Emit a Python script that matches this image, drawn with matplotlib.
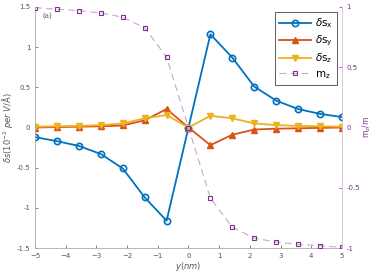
import numpy as np
import matplotlib
matplotlib.use('Agg')
import matplotlib.pyplot as plt

y_nm = np.linspace(-5, 5, 15)

ds_x = [-0.12, -0.17, -0.23, -0.33, -0.51, -0.87, -1.16, 0.0,
        1.16, 0.87, 0.51, 0.335, 0.23, 0.17, 0.13]
ds_y = [0.0, 0.005, 0.01, 0.015, 0.025, 0.09, 0.23, 0.0,
        -0.22, -0.09, -0.025, -0.015, -0.01, -0.005, 0.0]
ds_z = [0.01, 0.015, 0.02, 0.03, 0.05, 0.115, 0.155, 0.0,
        0.145, 0.115, 0.05, 0.03, 0.02, 0.015, 0.01]
m_z = [0.995, 0.98, 0.97, 0.95, 0.915, 0.827, 0.585, 0.0,
       -0.587, -0.827, -0.918, -0.95, -0.97, -0.98, -0.995]

blue = '#0072BD'
orange = '#D95319'
yellow = '#EDB120'
purple = '#7E2F8E'
grey = '#555555'

fig = plt.figure(figsize=(3.74, 2.79), dpi=100)
ax = fig.add_axes([0.094, 0.111, 0.82, 0.864])

l1, = ax.plot(y_nm, ds_x, '-o', color=blue, lw=1.3, ms=4.5, mfc='none', mew=1.2,
              label=r'$\delta\mathrm{s}_\mathrm{x}$')
l2, = ax.plot(y_nm, ds_y, '-^', color=orange, lw=1.3, ms=5,
              label=r'$\delta\mathrm{s}_\mathrm{y}$')
l3, = ax.plot(y_nm, ds_z, '-v', color=yellow, lw=1.3, ms=5,
              label=r'$\delta\mathrm{s}_\mathrm{z}$')

ax.set_xlim(-5, 5)
ax.set_ylim(-1.5, 1.5)
ax.set_xticks(range(-5, 6))
ax.set_yticks([-1.5, -1, -0.5, 0, 0.5, 1, 1.5])
ax.set_yticklabels(['-1.5', '-1', '-0.5', '0', '0.5', '1', '1.5'])
ax.tick_params(direction='in', labelsize=5, colors=grey, length=2.5, width=0.5)
for s in ['left', 'bottom']:
    ax.spines[s].set_color('#aaaaaa')
    ax.spines[s].set_linewidth(0.6)
ax.spines['top'].set_visible(False)
ax.spines['right'].set_visible(False)
ax.set_xlabel(r'$y(nm)$', fontsize=6, color=grey, labelpad=1)
ax.set_ylabel(r'$\delta s(10^{-2}\ per\ V/\mathrm{\AA})$', fontsize=6, color=grey, labelpad=1)
ax.text(-4.75, 1.37, '(a)', fontsize=5, color=grey, family='serif')

ax2 = ax.twinx()
l4, = ax2.plot(y_nm, m_z, '--s', color='#c9a6d1', lw=0.8, ms=3, mfc='none',
               mec=purple, mew=0.8, dashes=(6, 4), label=r'm$_\mathrm{z}$')
ax2.set_ylim(-1, 1)
ax2.set_yticks([-1, -0.5, 0, 0.5, 1])
ax2.set_yticklabels(['-1', '-0.5', '0', '0.5', '1'])
ax2.tick_params(direction='in', labelsize=5, colors=purple, length=2.5, width=0.5)
for s in ['left', 'top', 'bottom']:
    ax2.spines[s].set_visible(False)
ax2.spines['right'].set_color('#d9b8e0')
ax2.spines['right'].set_linewidth(0.6)
ax2.set_ylabel(r'm$_\mathrm{z}$/m', fontsize=5.5, color=purple, labelpad=0)

leg = ax2.legend(handles=[l1, l2, l3, l4], loc='upper right',
                 bbox_to_anchor=(0.984, 0.979), borderaxespad=0,
                 fontsize=7.5, frameon=True,
                 fancybox=False, edgecolor='#333333', handlelength=3.0,
                 borderpad=0.4, labelspacing=0.35, handletextpad=0.4)
leg.get_frame().set_linewidth(0.7)

fig.savefig('out.png', dpi=100)
